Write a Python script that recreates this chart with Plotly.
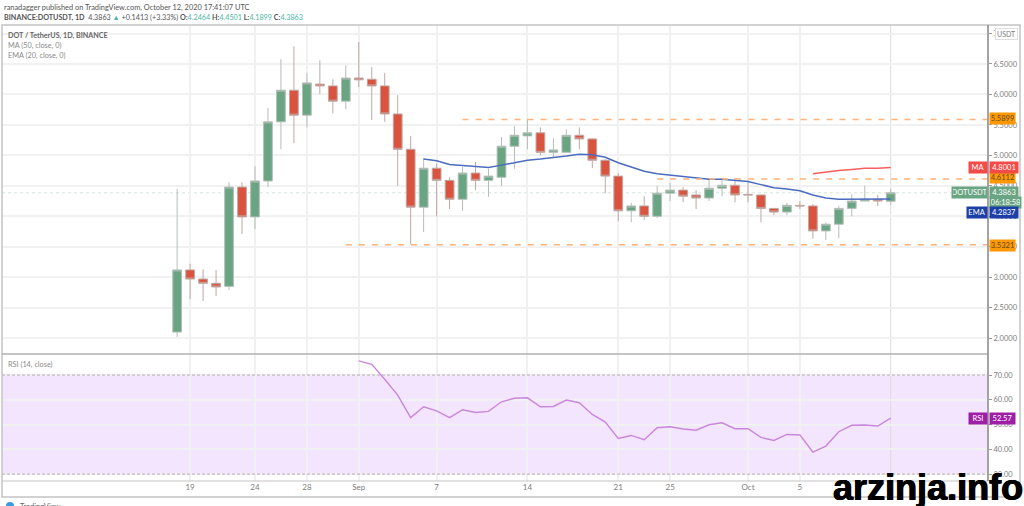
import pandas as pd
import plotly.graph_objects as go
from plotly.subplots import make_subplots

W, H = 1024, 506

dates = [d.date().isoformat() for d in pd.date_range("2020-08-18", "2020-10-12")]

opens = [2.10, 3.12, 2.97, 2.90, 2.85, 4.48, 3.99, 4.58, 5.55, 6.07, 5.66, 6.17, 6.14, 5.89,
         6.27, 6.25, 6.14, 5.68, 5.10, 4.15, 4.79, 4.59, 4.28, 4.71, 4.59, 4.64, 5.15, 5.32,
         5.37, 5.05, 5.05, 5.33, 5.27, 4.92, 4.66, 4.09, 4.17, 4.00, 4.38, 4.43, 4.35, 4.30,
         4.46, 4.51, 4.36, 4.35, 4.13, 4.07, 4.18, 4.17, 3.76, 3.87, 4.13, 4.25, 4.28, 4.2464]
highs = [4.45, 3.22, 3.13, 3.12, 4.56, 4.56, 4.82, 5.78, 6.58, 6.79, 6.35, 6.56, 6.25, 6.48,
         6.86, 6.45, 6.35, 5.99, 5.32, 4.96, 4.87, 4.64, 4.81, 4.89, 4.78, 5.30, 5.48, 5.60,
         5.46, 5.28, 5.43, 5.46, 5.28, 4.94, 4.71, 4.22, 4.33, 4.50, 4.55, 4.48, 4.43, 4.63,
         4.63, 4.63, 4.59, 4.35, 4.13, 4.22, 4.25, 4.20, 3.90, 4.17, 4.36, 4.50, 4.35, 4.4501]
lows = [2.02, 2.64, 2.61, 2.69, 2.79, 3.71, 3.79, 4.48, 5.10, 5.20, 5.46, 6.01, 5.69, 5.76,
        6.12, 5.58, 5.55, 4.50, 3.54, 3.74, 4.00, 4.12, 4.09, 4.43, 4.32, 4.50, 4.78, 5.10,
        5.00, 4.96, 5.04, 5.10, 4.79, 4.38, 3.92, 3.90, 3.94, 3.97, 4.25, 4.23, 4.12, 4.25,
        4.33, 4.23, 4.23, 3.90, 4.02, 4.02, 4.12, 3.63, 3.61, 3.64, 4.00, 4.25, 4.17, 4.1899]
closes = [3.12, 2.97, 2.90, 2.84, 4.48, 3.99, 4.58, 5.55, 6.07, 5.66, 6.19, 6.14, 5.89, 6.27,
          6.24, 6.14, 5.68, 5.10, 4.15, 4.79, 4.59, 4.28, 4.71, 4.59, 4.66, 5.15, 5.33, 5.37,
          5.05, 5.09, 5.33, 5.27, 4.92, 4.66, 4.09, 4.17, 4.00, 4.38, 4.43, 4.33, 4.30, 4.46,
          4.51, 4.35, 4.35, 4.13, 4.07, 4.18, 4.17, 3.76, 3.87, 4.13, 4.25, 4.28, 4.25, 4.3863]

ema_dates = dates[19:]
ema = [4.94, 4.91, 4.85, 4.83, 4.81, 4.80, 4.84, 4.88, 4.92, 4.94, 4.96, 4.99, 5.02, 5.01,
       4.97, 4.88, 4.81, 4.74, 4.70, 4.68, 4.66, 4.63, 4.61, 4.61, 4.59, 4.57, 4.52, 4.47,
       4.45, 4.42, 4.35, 4.30, 4.28, 4.28, 4.28, 4.28, 4.2837]
ma_dates = dates[-7:]
ma = [4.70, 4.73, 4.75, 4.77, 4.79, 4.79, 4.8001]

rsi_dates = dates[14:]
rsi = [75.7, 74.3, 68.3, 61.9, 52.8, 57.2, 55.5, 52.8, 56.0, 54.9, 55.3, 59.2, 60.6, 60.8,
       57.2, 57.3, 59.9, 58.8, 54.1, 51.0, 44.4, 45.6, 43.9, 48.7, 49.1, 48.2, 47.7, 49.9,
       50.7, 48.3, 48.3, 44.8, 43.6, 46.0, 45.8, 38.9, 41.3, 47.1, 49.7, 49.8, 49.4, 52.57]

levels = [5.5899, 4.6112, 3.5321]
level_starts = ["2020-09-09", "2020-09-24", "2020-08-31"]

x_ticks = ["2020-08-19", "2020-08-24", "2020-08-28", "2020-09-01", "2020-09-07", "2020-09-14",
           "2020-09-21", "2020-09-25", "2020-10-01", "2020-10-05"]
x_labels = ["19", "24", "28", "Sep", "7", "14", "21", "25", "Oct", "5"]
price_ticks = [2.0, 2.5, 3.0, 3.5, 4.0, 4.5, 5.0, 5.5, 6.0, 6.5, 7.0]
rsi_ticks = [30, 40, 50, 60, 70]

x_range = ["2020-08-04 12:00", "2020-10-19 12:00"]
FONT = "Lato"
GREY = "#7d7d7d"
GRID = "#f1f1f1"


def fx(px):
    return px / W


def fy(py):
    return 1 - py / H


fig = make_subplots(rows=2, cols=1, shared_xaxes=True)

fig.add_trace(go.Candlestick(
    x=dates, open=opens, high=highs, low=lows, close=closes,
    increasing=dict(fillcolor="#6aa583", line=dict(color="#b4beb8", width=1)),
    decreasing=dict(fillcolor="#d9533f", line=dict(color="#c0a8a4", width=1)),
    showlegend=False), row=1, col=1)
fig.add_trace(go.Scatter(x=ema_dates, y=ema, mode="lines", line=dict(color="#4a6cc0", width=1.5),
                         showlegend=False), row=1, col=1)
fig.add_trace(go.Scatter(x=ma_dates, y=ma, mode="lines", line=dict(color="#f4605c", width=1.5),
                         showlegend=False), row=1, col=1)
for level, start in zip(levels, level_starts):
    fig.add_trace(go.Scatter(x=[start, x_range[1]], y=[level, level], mode="lines",
                             line=dict(color="#ffb27a", width=1.6, dash="6px,7px"),
                             showlegend=False), row=1, col=1)
fig.add_trace(go.Scatter(x=rsi_dates, y=rsi, mode="lines", line=dict(color="#c987dc", width=1.4),
                         showlegend=False), row=2, col=1)

fig.update_xaxes(range=x_range, tickmode="array", tickvals=x_ticks, ticktext=x_labels,
                 showgrid=True, gridcolor=GRID, gridwidth=1.5, zeroline=False,
                 rangeslider_visible=False, ticks="", showline=False,
                 tickfont=dict(family=FONT, size=8, color=GREY))
fig.update_yaxes(side="right", showgrid=True, gridcolor=GRID, gridwidth=1.5, zeroline=False,
                 ticks="outside", ticklen=3, tickcolor="#999999", showline=False,
                 tickfont=dict(family=FONT, size=7.5, color=GREY))
fig.update_layout(
    width=W, height=H, margin=dict(l=0, r=0, t=0, b=0), paper_bgcolor="white",
    plot_bgcolor="white", showlegend=False, font=dict(family=FONT),
    boxgap=0.25, boxgroupgap=0.1,
    xaxis=dict(domain=[fx(2), fx(988)]),
    xaxis2=dict(domain=[fx(2), fx(988)]),
    yaxis=dict(domain=[fy(354), fy(25)], range=[1.74, 7.14], tickmode="array",
               tickvals=price_ticks, ticktext=[f"{t:.4f}" for t in price_ticks]),
    yaxis2=dict(domain=[fy(481), fy(354)], range=[27.2, 78.5], tickmode="array",
                tickvals=rsi_ticks, ticktext=[f"{t:.2f}" for t in rsi_ticks]),
)

# rsi band and its dashed bounds
fig.add_shape(type="rect", xref="x2 domain", yref="y2", x0=0, x1=1, y0=30, y1=70,
              fillcolor="rgba(156,39,235,0.12)", line_width=0, layer="below")
for v in [30, 70]:
    fig.add_shape(type="line", xref="x2 domain", yref="y2", x0=0, x1=1, y0=v, y1=v,
                  line=dict(color="#b9a8bf", width=1, dash="3px,2px"))

# last price dotted line and crosshair on the last bar
fig.add_shape(type="line", xref="x domain", yref="y", x0=0, x1=1, y0=closes[-1], y1=closes[-1],
              line=dict(color="#d3e6da", width=1, dash="dot"), layer="below")
fig.add_shape(type="line", xref="x", yref="paper", x0=dates[-1], x1=dates[-1], y0=fy(481), y1=fy(25),
              line=dict(color="#dcdcdc", width=1), layer="below")

# frame of the widget
frame = "#c4c4c4"
fig.add_shape(type="rect", xref="paper", yref="paper", x0=fx(2), x1=fx(1020), y0=fy(497), y1=fy(25),
              line=dict(color=frame, width=1.5))
fig.add_shape(type="line", xref="paper", yref="paper", x0=fx(2), x1=fx(988), y0=fy(354), y1=fy(354),
              line=dict(color="#b0b0b0", width=1.5))
fig.add_shape(type="line", xref="paper", yref="paper", x0=fx(2), x1=fx(988), y0=fy(481), y1=fy(481),
              line=dict(color=frame, width=1.2))
fig.add_shape(type="line", xref="paper", yref="paper", x0=fx(988), x1=fx(988), y0=fy(481), y1=fy(25),
              line=dict(color="#9a9a9a", width=1.8))
fig.add_shape(type="circle", xref="paper", yref="paper", x0=fx(6), x1=fx(14), y0=fy(510), y1=fy(502),
              fillcolor="#3a9be0", line_width=0)


def text(px, py, s, size=7.5, color=GREY, **kw):
    fig.add_annotation(xref="paper", yref="paper", x=fx(px), y=fy(py), text=s, showarrow=False,
                       xanchor=kw.pop("xanchor", "left"), yanchor="middle",
                       font=dict(family=kw.pop("family", FONT), size=size, color=color,
                                 shadow=kw.pop("shadow", "none")), **kw)


def chip(py, value, color, name=None, fg="white", w=26, name_w=16):
    text(989, py, value, size=7.5, color=fg, bgcolor=color, borderpad=1, width=w, align="center")
    if name:
        text(988, py, name, size=7.5, color=fg, bgcolor=color, borderpad=1, xanchor="right",
             width=name_w, align="center")


teal = "#4db6a4"
text(2, 7, "ranadagger published on TradingView.com, October 12, 2020 17:41:07 UTC", size=7.4, color="#555555")
text(2, 17, f"<b>BINANCE:DOTUSDT, 1D</b>  {closes[-1]} <span style='color:{teal}'>▲</span> +0.1413 (+3.33%) "
            f"<b>O:</b><span style='color:{teal}'>{opens[-1]}</span> "
            f"<b>H:</b><span style='color:{teal}'>{highs[-1]}</span> "
            f"<b>L:</b><span style='color:{teal}'>{lows[-1]}</span> "
            f"<b>C:</b><span style='color:{teal}'>{closes[-1]}</span>", size=7.2, color="#555555")
text(6, 35, "<b>DOT / TetherUS, 1D, BINANCE</b>", size=7.2, color="#666666")
text(6, 45, "MA (50, close, 0)", size=7.3, color="#8a8a8a")
text(6, 55, "EMA (20, close, 0)", size=7.3, color="#8a8a8a")
text(6, 364, "RSI (14, close)", size=7.3, color="#8a8a8a")
text(18, 506, "TradingView", size=7.5, color="#666666")

text(995, 34, "USDT", size=7, color=GREY, bgcolor="white", bordercolor="#dddddd", borderpad=1)

chip(119, f"{levels[0]:.4f}", "#ff9800", fg="#5a4a2a", w=23)
chip(178, f"{levels[1]:.4f}", "#ff9800", fg="#5a4a2a", w=23)
chip(245, f"{levels[2]:.4f}", "#ff9800", fg="#5a4a2a", w=23)
chip(167, f"{ma[-1]:.4f}", "#f44b48", name="MA")
chip(192, f"{closes[-1]:.4f}", "#6aa583", name="DOTUSDT", name_w=33)
chip(202, "06:18:58", "#6aa583", w=29)
chip(212, f"{ema[-1]:.4f}", "#1c3fa8", name="EMA", name_w=18)
chip(418, f"{rsi[-1]:.2f}", "#9c1fa5", name="RSI", w=23)

# site watermark over the bottom right corner
text(1025, 487, "<b>arzinja.info</b>", size=36, color="#000000", xanchor="right",
     family="Liberation Sans", shadow="0.6px 0 0 #000, -0.6px 0 0 #000")

fig.write_html("out.html", config=dict(displayModeBar=False),
               post_script="document.body.style.margin='0';")
